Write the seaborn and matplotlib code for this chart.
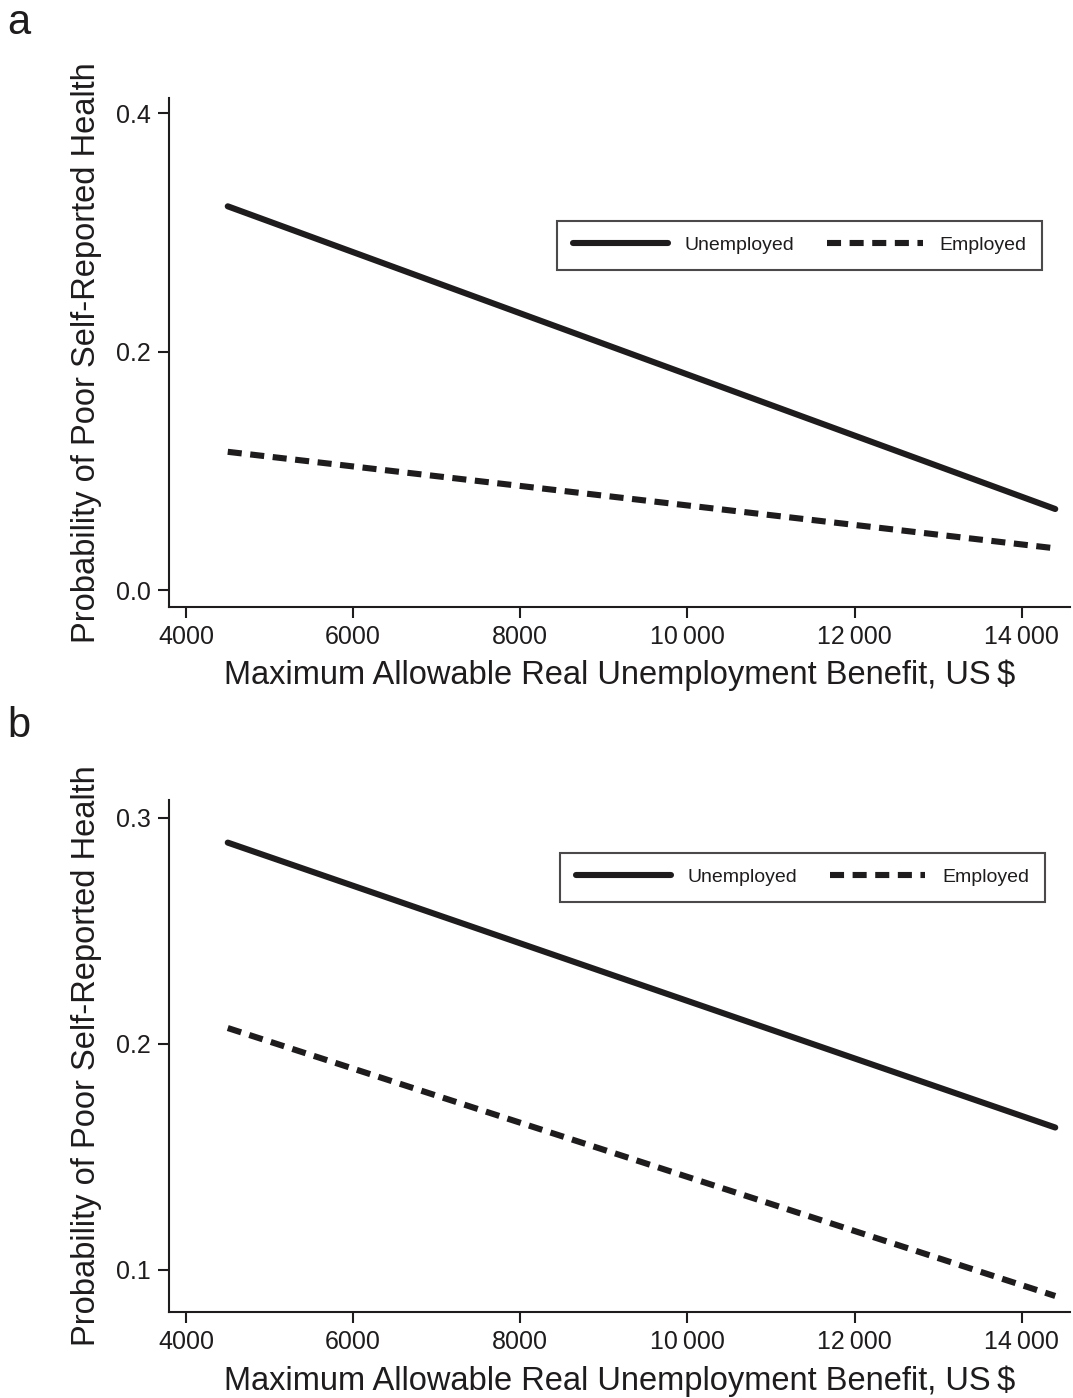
import matplotlib
matplotlib.use("Agg")
import matplotlib.pyplot as plt
import seaborn as sns
import pandas as pd

# Predicted probabilities at the two ends of the benefit range
benefit = [4500, 14400]
unemployed_a = [0.322, 0.068]
employed_a = [0.116, 0.035]
unemployed_b = [0.289, 0.163]
employed_b = [0.207, 0.0885]

x_ticks = [4000, 6000, 8000, 10000, 12000, 14000]
x_tick_labels = ["4000", "6000", "8000", "10\u2009000", "12\u2009000", "14\u2009000"]
y_ticks_a = [0.0, 0.2, 0.4]
y_ticks_b = [0.1, 0.2, 0.3]
groups = ["Unemployed", "Employed"]

sns.set_theme(style="white")
plt.rcParams["font.family"] = ["Liberation Sans", "DejaVu Sans"]

INK = "#1f1c1d"

fig = plt.figure(figsize=(10.73, 13.98), dpi=100)
ax_a = fig.add_axes([0.1575, 0.566, 0.8395, 0.364])
ax_b = fig.add_axes([0.1575, 0.0615, 0.8395, 0.3665])


def make_frame(unemp, emp):
    return pd.DataFrame({
        "benefit": benefit * 2,
        "prob": list(unemp) + list(emp),
        "status": [groups[0]] * 2 + [groups[1]] * 2,
    })


def draw(ax, df, yticks, ylim, legend_anchor):
    sns.lineplot(data=df, x="benefit", y="prob", hue="status", style="status",
                 palette={groups[0]: INK, groups[1]: INK},
                 dashes={groups[0]: "", groups[1]: (2.3, 1.4)},
                 linewidth=4.4, ax=ax, legend=True)
    ax.set_xlim(3797, 14574)
    ax.set_ylim(*ylim)
    ax.set_xticks(x_ticks)
    ax.set_xticklabels(x_tick_labels)
    ax.set_yticks(yticks)
    ax.set_yticklabels([f"{v:.1f}" for v in yticks])
    sns.despine(ax=ax)
    for s in ["left", "bottom"]:
        ax.spines[s].set_color(INK)
        ax.spines[s].set_linewidth(1.5)
    ax.tick_params(axis="both", direction="out", length=8, width=1.5,
                   color=INK, labelsize=18, labelcolor=INK,
                   left=True, bottom=True, pad=5)
    ax.set_xlabel("Maximum Allowable Real Unemployment Benefit, US\u2009$",
                  fontsize=23.5, color=INK, labelpad=8)
    ax.set_ylabel("Probability of Poor Self-Reported Health",
                  fontsize=23.5, color=INK, labelpad=10)
    handles, labels = ax.get_legend_handles_labels()
    leg = ax.legend(handles, labels, loc="upper right", bbox_to_anchor=legend_anchor,
                    ncol=2, frameon=True, fancybox=False, fontsize=14,
                    handlelength=4.9, columnspacing=1.7, handletextpad=0.85,
                    borderpad=0.8, borderaxespad=0)
    leg.get_frame().set_edgecolor(INK)
    leg.get_frame().set_linewidth(1.5)
    for t in leg.get_texts():
        t.set_color(INK)


draw(ax_a, make_frame(unemployed_a, employed_a), y_ticks_a, (-0.014, 0.413), (0.969, 0.758))
draw(ax_b, make_frame(unemployed_b, employed_b), y_ticks_b, (0.0814, 0.308), (0.972, 0.896))

fig.text(0.007, 0.998, "a", fontsize=30, va="top", ha="left", color=INK)
fig.text(0.007, 0.495, "b", fontsize=30, va="top", ha="left", color=INK)

fig.savefig("out.png", dpi=100, facecolor="white")
